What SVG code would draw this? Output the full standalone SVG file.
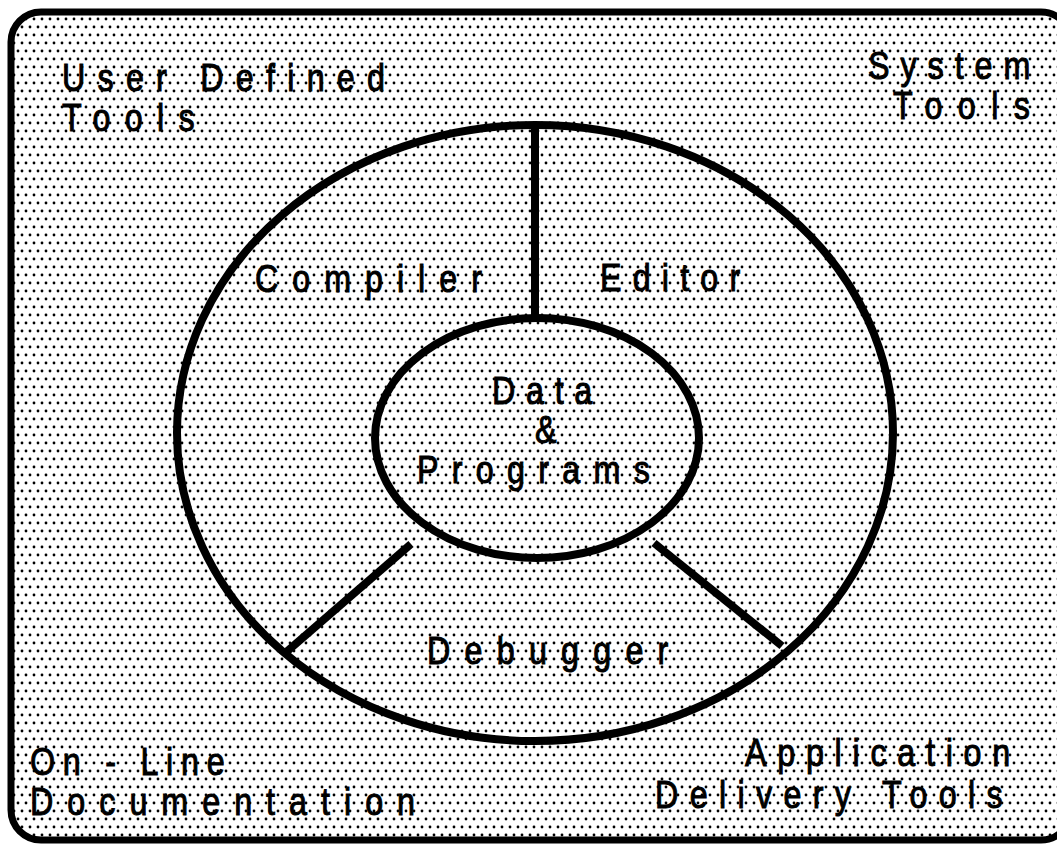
<svg xmlns="http://www.w3.org/2000/svg" width="1057" height="848" viewBox="0 0 1057 848">
  <defs>
    <!-- halftone screen used as the panel fill -->
    <pattern id="dots" width="8" height="16" patternUnits="userSpaceOnUse">
      <rect width="8" height="16" fill="#ffffff"/>
      <circle cx="2" cy="3" r="1.4" fill="#000"/>
      <circle cx="6" cy="11" r="1.4" fill="#000"/>
    </pattern>
    <style>
      .frame { fill: url(#dots); stroke: #000; stroke-width: 7; }
      .ring { fill: none; stroke: #000; stroke-width: 8; }
      .spoke { stroke: #000; stroke-width: 8; stroke-linecap: butt; }
      .lbl { font-family: "Liberation Sans", Arial, sans-serif; font-size: 38px; fill: #000; stroke: #000; stroke-width: 1px; }
    </style>
  </defs>

  <rect width="1057" height="848" fill="#ffffff"/>

  <!-- outer panel -->
  <rect id="panel" class="frame" x="11" y="12" width="1060" height="828" rx="30" ry="30"/>

  <!-- environment ring and spokes -->
  <g id="connectors">
    <ellipse class="ring" cx="535" cy="433" rx="358" ry="308"/>
    <line class="spoke" x1="535" y1="125" x2="535" y2="318"/>
    <line class="spoke" x1="411" y1="544" x2="284" y2="654"/>
    <line class="spoke" x1="654" y1="543" x2="782" y2="646"/>
  </g>

  <!-- labels are drawn with condensed glyphs (x scaled by 0.85) and wide tracking -->
  <g id="core">
    <ellipse class="ring" cx="537" cy="438" rx="162" ry="120"/>
    <text class="lbl" transform="translate(492,404) scale(0.85,1)" textLength="118" lengthAdjust="spacing">Data</text>
    <text class="lbl" transform="translate(535,443) scale(0.85,1)">&amp;</text>
    <text class="lbl" transform="translate(417,483) scale(0.85,1)" textLength="274" lengthAdjust="spacing">Programs</text>
  </g>

  <g id="compiler">
    <text class="lbl" transform="translate(255,292) scale(0.85,1)" textLength="267" lengthAdjust="spacing">Compiler</text>
  </g>

  <g id="editor">
    <text class="lbl" transform="translate(600,291) scale(0.85,1)" textLength="165" lengthAdjust="spacing">Editor</text>
  </g>

  <g id="debugger">
    <text class="lbl" transform="translate(427,664) scale(0.85,1)" textLength="284" lengthAdjust="spacing">Debugger</text>
  </g>

  <g id="user-tools">
    <text class="lbl" transform="translate(62,91) scale(0.85,1)" textLength="380" lengthAdjust="spacing">User Defined</text>
    <text class="lbl" transform="translate(62,131) scale(0.85,1)" textLength="156" lengthAdjust="spacing">Tools</text>
  </g>

  <g id="system-tools">
    <text class="lbl" transform="translate(868,79) scale(0.85,1)" textLength="191" lengthAdjust="spacing">System</text>
    <text class="lbl" transform="translate(893,119) scale(0.85,1)" textLength="161" lengthAdjust="spacing">Tools</text>
  </g>

  <g id="documentation">
    <text class="lbl" transform="translate(30,775) scale(0.85,1)" textLength="229" lengthAdjust="spacing">On - Line</text>
    <text class="lbl" transform="translate(30,815) scale(0.85,1)" textLength="453" lengthAdjust="spacing">Documentation</text>
  </g>

  <g id="delivery-tools">
    <text class="lbl" transform="translate(745,766) scale(0.85,1)" textLength="312" lengthAdjust="spacing">Application</text>
    <text class="lbl" transform="translate(655,808) scale(0.85,1)" textLength="409" lengthAdjust="spacing">Delivery Tools</text>
  </g>
</svg>
